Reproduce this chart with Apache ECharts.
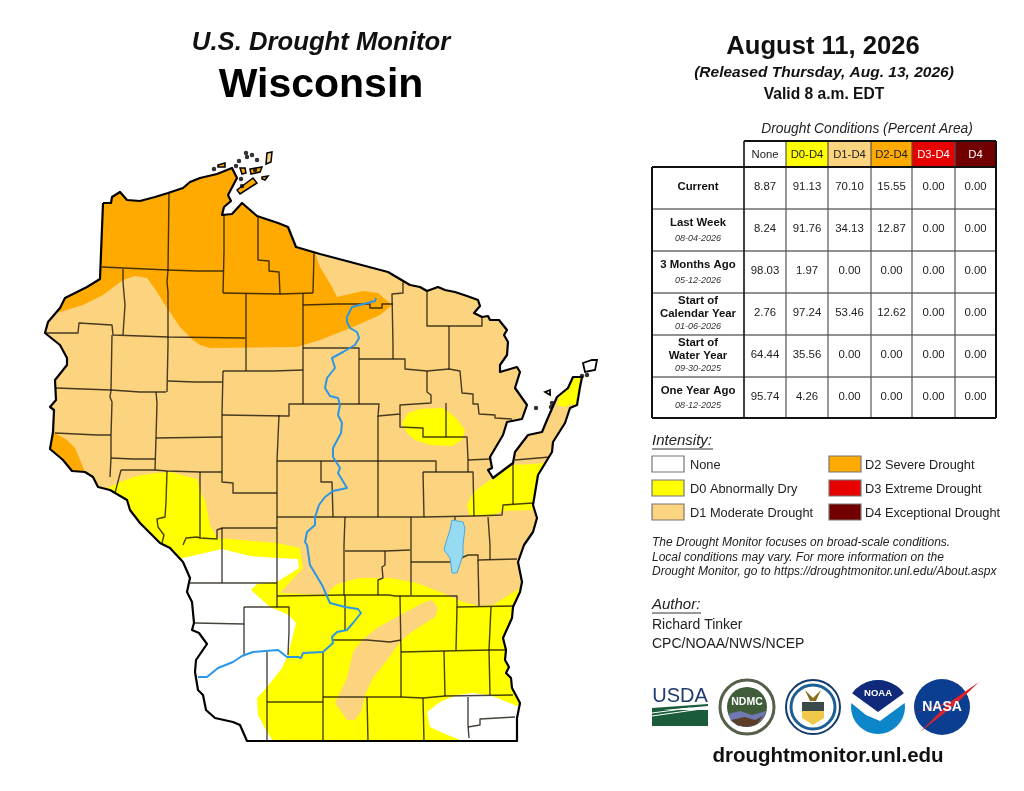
<!DOCTYPE html>
<html>
<head>
<meta charset="utf-8">
<title>U.S. Drought Monitor - Wisconsin</title>
<script src="https://cdn.jsdelivr.net/npm/echarts@6/dist/echarts.min.js"></script>
<style>
  html, body { margin: 0; padding: 0; background: #fff; }
  #main { width: 1024px; height: 791px; }
</style>
</head>
<body>
<div id="main"></div>
<script>
var chartDom = document.getElementById('main');
var myChart = echarts.init(chartDom, null, { renderer: 'canvas' });

var stateOutline = [
  [103,203],[111,203],[112,197],[120,192],[127,200],[140,201],[155,197],[168,193],[183,188],[190,182],[200,178],[217,174],[232,168],
  [237,178],[228,195],[231,201],[224,207],[222,215],[232,214],[242,203],[257,216],[278,223],[288,227],[296,247],[320,254],
  [388,272],[410,285],[420,287],[427,291],[438,287],[445,290],[455,292],[467,296],[478,300],[480,306],[474,313],[482,317],[488,316],[490,320],[499,320],
  [507,330],[504,335],[508,342],[507,355],[500,365],[500,372],[517,367],[520,372],[515,388],[527,405],[522,419],[507,422],[503,435],
  [490,457],[492,468],[488,470],[493,478],[513,463],[515,452],[528,435],[542,432],[547,420],[557,397],[568,388],[573,377],[582,377],
  [580,387],[577,405],[570,408],[565,423],[553,442],[552,452],[538,475],[533,505],[537,518],[533,532],[524,545],
  [518,562],[522,582],[520,592],[513,607],[512,618],[503,638],[506,650],[505,660],[509,667],[506,673],[511,678],[512,688],[520,703],[517,718],[517,741],
  [247,741],[240,725],[233,722],[215,718],[206,710],[203,695],[198,690],[195,672],[196,660],[207,644],[199,633],[192,630],[194,623],[192,602],[187,592],[190,578],[183,562],[170,548],
  [160,543],[140,523],[130,510],[127,500],[110,490],[98,487],[93,477],[85,472],[72,471],[63,460],[50,449],[53,432],[54,410],[50,407],[56,400],[55,380],[67,365],[67,358],[60,345],
  [45,333],[48,322],[60,308],[65,298],[87,287],[100,279],[103,203]
];
var d2Areas = [
  [[30,318],[60,312],[83,305],[103,295],[123,280],[135,276],[147,278],[157,292],[167,308],[180,327],[193,340],[200,345],[210,348],[297,347],[320,340],[353,327],[380,315],[392,305],[378,293],[363,291],[337,297],[332,287],[320,267],[314,250],[316,140],[30,140]],
  [[53,428],[55,433],[67,440],[75,448],[85,472],[40,480],[40,428]]
];
var d0Areas = [
  [[100,492],[110,487],[120,482],[137,476],[155,473],[170,472],[197,479],[201,493],[205,500],[210,525],[217,538],[277,543],[300,548],[303,568],[280,593],[327,595],[333,587],[340,583],[360,578],[390,578],[417,583],[440,592],[463,602],[480,606],[493,605],[525,585],[560,760],[100,760]],
  [[402,423],[408,413],[420,409],[443,408],[455,417],[465,430],[462,440],[452,446],[430,445],[415,440],[407,433]],
  [[467,505],[473,493],[487,482],[513,465],[547,463],[560,460],[560,510],[533,510],[503,511],[493,515],[470,516]],
  [[557,405],[560,395],[565,385],[575,370],[595,370],[595,412],[572,404],[565,407]],
  [[465,294],[482,296],[480,303],[470,298]]
];
var d1Areas = [
  [[432,600],[438,608],[435,617],[410,633],[400,642],[387,660],[373,678],[365,695],[362,710],[355,720],[347,720],[335,703],[347,678],[353,652],[362,640],[377,628],[400,615],[423,603]]
];
var noneAreas = [
  [[183,558],[222,549],[250,556],[277,558],[298,559],[299,568],[277,582],[257,584],[251,590],[270,607],[289,615],[296,623],[288,655],[282,668],[267,687],[257,698],[258,715],[267,732],[276,745],[150,760],[150,575]],
  [[427,712],[440,702],[457,695],[473,693],[490,695],[517,706],[530,700],[530,745],[472,745],[443,733],[430,727]]
];
var countyLines = [
  [[169,193],[168,270],[167,282],[168,292],[168,345],[167,392]],
  [[102,267],[168,270],[197,271],[223,271]],
  [[224,215],[224,252],[223,293]],
  [[258,217],[258,260],[269,261],[269,271],[279,272],[280,294]],
  [[223,293],[280,294],[313,293]],
  [[314,253],[313,293]],
  [[246,294],[246,371]],
  [[303,294],[303,404]],
  [[303,305],[337,304],[370,304],[370,308],[382,308],[382,304],[393,304]],
  [[123,269],[123,282],[125,305],[123,335]],
  [[46,333],[78,333],[79,323],[112,325],[113,335],[168,337],[245,338]],
  [[403,282],[403,293],[392,294],[393,345],[393,359]],
  [[427,292],[427,308],[427,326],[482,326],[482,317]],
  [[449,326],[449,369]],
  [[112,335],[111,390],[110,397],[112,402],[111,435],[111,458],[110,477]],
  [[56,388],[83,389],[111,390],[140,392],[166,392]],
  [[168,381],[195,382],[222,382]],
  [[223,371],[273,371],[303,370]],
  [[223,371],[222,415],[222,472],[222,482],[233,483],[233,493],[277,493]],
  [[156,392],[157,403],[156,438],[155,470]],
  [[222,415],[285,416],[289,416],[289,404],[359,404]],
  [[156,438],[222,437]],
  [[55,433],[97,435],[111,435]],
  [[111,458],[133,459],[155,459]],
  [[121,470],[155,470],[167,471],[200,472],[222,472]],
  [[121,470],[115,493]],
  [[167,471],[166,502],[165,517],[157,519],[158,527],[164,535],[162,543]],
  [[200,472],[200,538]],
  [[183,545],[186,538],[197,537],[200,538],[217,539],[217,530],[222,528],[277,528]],
  [[279,415],[278,438],[277,461],[277,607]],
  [[277,461],[378,461],[436,461],[436,472]],
  [[277,517],[320,517],[378,517],[424,517],[474,516],[502,515],[503,505],[533,503]],
  [[303,348],[359,348],[359,404]],
  [[359,359],[393,359],[405,359],[405,369],[427,371],[449,369],[460,371],[462,393],[473,394],[473,404],[478,404],[479,414],[495,415],[495,418],[512,419]],
  [[427,371],[427,392],[431,395],[431,403],[400,405],[400,414],[378,416],[379,404],[359,404]],
  [[400,414],[400,427],[423,428],[423,437],[445,437],[467,437],[468,460],[468,472]],
  [[446,403],[446,437]],
  [[378,416],[378,517]],
  [[423,472],[473,472],[474,516]],
  [[423,472],[424,517]],
  [[468,460],[490,459]],
  [[321,461],[321,482],[332,482],[333,517]],
  [[513,463],[513,504]],
  [[515,460],[550,457]],
  [[345,517],[344,545],[344,595]],
  [[411,517],[411,562],[411,595]],
  [[455,517],[455,520]],
  [[488,517],[490,545],[490,560]],
  [[345,551],[385,551],[410,550]],
  [[385,551],[385,565],[382,567],[383,578],[378,580],[378,595]],
  [[411,562],[452,562],[468,555],[478,555],[478,560],[517,559]],
  [[478,560],[479,606]],
  [[277,596],[345,595],[389,595],[395,596],[400,596],[457,596],[457,607],[513,606]],
  [[400,596],[401,652],[401,697]],
  [[457,607],[456,650]],
  [[491,607],[489,650],[490,695]],
  [[401,652],[444,651],[490,650],[505,650]],
  [[444,651],[445,696]],
  [[323,697],[367,697],[401,697],[423,698],[445,696],[513,695]],
  [[333,640],[367,640],[390,642],[401,640]],
  [[367,697],[368,741]],
  [[423,698],[424,741]],
  [[468,697],[468,725],[469,738]],
  [[468,727],[480,725],[480,719],[515,717]],
  [[222,528],[222,583]],
  [[190,583],[277,583]],
  [[244,607],[289,607],[289,632],[288,655]],
  [[244,607],[244,655]],
  [[195,623],[244,624]],
  [[267,652],[267,741]],
  [[345,595],[345,630]],
  [[323,652],[323,741]],
  [[267,702],[323,702]]
];
var riverLines = [
  [[376,298],[375,301],[352,307],[347,317],[347,322],[350,328],[357,332],[359,338],[355,345],[343,352],[332,358],[335,368],[327,378],[325,388],[330,396],[338,398],[340,405],[338,415],[342,423],[341,433],[333,448],[333,457],[340,468],[338,473],[347,488],[333,491],[325,497],[319,505],[315,517],[315,525],[307,532],[305,542],[307,545],[310,565],[322,585],[330,603],[345,607],[358,609],[361,613],[353,623],[347,630],[337,632],[332,637],[333,643],[323,652],[303,653],[301,658],[298,657],[287,657],[278,650],[253,652],[242,656],[233,662],[218,668],[207,677],[198,677]]
];
var lakeAreas = [
  [[452,520],[463,522],[465,528],[463,545],[463,555],[457,573],[452,573],[450,558],[444,550],[446,542],[450,530]]
];
var islandAreas = [
  [[218,165],[225,163],[225,167],[218,167]],
  [[240,168],[245,168],[246,173],[242,174]],
  [[250,169],[262,167],[260,172],[251,174]],
  [[237,190],[253,178],[257,183],[240,194]],
  [[262,177],[268,176],[265,180],[262,179]]
];
var lightIslandAreas = [[[267,153],[272,152],[271,162],[266,164]]];
var whiteIslandAreas = [
  [[583,363],[592,360],[597,360],[595,370],[585,372]],
  [[545,392],[550,390],[550,395]]
];
var islandDots = [[239,161],[247,157],[252,155],[257,160],[255,170],[241,179],[246,153],[236,166],[536,408],[552,403],[551,407],[582,376],[587,375],[214,169],[242,186]];

// table and legend
var tableHeaders = ['None', 'D0-D4', 'D1-D4', 'D2-D4', 'D3-D4', 'D4'];
var tableHeaderFills = ['#FFFFFF', '#FFFF00', '#FCD37F', '#FFAA00', '#E60000', '#730000'];
var tableHeaderInks = ['#222', '#222', '#222', '#222', '#fff', '#fff'];
var rowLabels = [['Current'], ['Last Week'], ['3 Months Ago'], ['Start of', 'Calendar Year'], ['Start of', 'Water Year'], ['One Year Ago']];
var rowDates = ['', '08-04-2026', '05-12-2026', '01-06-2026', '09-30-2025', '08-12-2025'];
var rowValues = [
  ['8.87', '91.13', '70.10', '15.55', '0.00', '0.00'],
  ['8.24', '91.76', '34.13', '12.87', '0.00', '0.00'],
  ['98.03', '1.97', '0.00', '0.00', '0.00', '0.00'],
  ['2.76', '97.24', '53.46', '12.62', '0.00', '0.00'],
  ['64.44', '35.56', '0.00', '0.00', '0.00', '0.00'],
  ['95.74', '4.26', '0.00', '0.00', '0.00', '0.00']
];
var legendNames = ['None', 'D0 Abnormally Dry', 'D1 Moderate Drought', 'D2 Severe Drought', 'D3 Extreme Drought', 'D4 Exceptional Drought'];
var noteLines = [
  'The Drought Monitor focuses on broad-scale conditions.',
  'Local conditions may vary. For more information on the',
  'Drought Monitor, go to https://droughtmonitor.unl.edu/About.aspx'
];

var FONT = '"Liberation Sans", Arial, sans-serif';
var colEdges = [652, 744, 786, 828, 871, 912, 955, 996];
var rowEdges = [167, 209, 251, 293, 335, 377, 418];

function toPoints(api, pts) {
  return pts.map(function (p) { return api.coord(p); });
}

function areaSeries(polys, fill, z, stroke, lineWidth) {
  return {
    type: 'custom',
    coordinateSystem: 'cartesian2d',
    silent: true,
    clip: false,
    z: z,
    data: polys.map(function (p, i) { return [i]; }),
    renderItem: function (params, api) {
      return {
        type: 'polygon',
        shape: { points: toPoints(api, polys[api.value(0)]) },
        style: { fill: fill, stroke: stroke || null, lineWidth: lineWidth || 0 }
      };
    }
  };
}

function lineSeries(lines, stroke, lineWidth, z) {
  return {
    type: 'custom',
    coordinateSystem: 'cartesian2d',
    silent: true,
    clip: false,
    z: z,
    data: lines.map(function (p, i) { return [i]; }),
    renderItem: function (params, api) {
      return {
        type: 'polyline',
        shape: { points: toPoints(api, lines[api.value(0)]) },
        style: { fill: null, stroke: stroke, lineWidth: lineWidth, lineJoin: 'round' }
      };
    }
  };
}

function label(text, x, y, size, opts) {
  opts = opts || {};
  return {
    type: 'text',
    x: x,
    y: y,
    style: {
      text: text,
      fill: opts.fill || '#111',
      font: (opts.italic ? 'italic ' : '') + (opts.bold ? 'bold ' : '') + size + 'px ' + FONT,
      align: opts.align || 'center',
      verticalAlign: 'middle'
    }
  };
}

function rect(x, y, w, h, fill, stroke, lineWidth) {
  return { type: 'rect', shape: { x: x, y: y, width: w, height: h }, style: { fill: fill, stroke: stroke || null, lineWidth: lineWidth || 0 } };
}

function seg(x1, y1, x2, y2, stroke, lineWidth) {
  return { type: 'line', shape: { x1: x1, y1: y1, x2: x2, y2: y2 }, style: { stroke: stroke, lineWidth: lineWidth } };
}

function buildTable() {
  var els = [label('Drought Conditions (Percent Area)', 867, 129, 13.8, { italic: true, fill: '#222' })];
  tableHeaders.forEach(function (h, i) {
    els.push(rect(colEdges[i + 1], 141, colEdges[i + 2] - colEdges[i + 1], 26, tableHeaderFills[i]));
    els.push(label(h, (colEdges[i + 1] + colEdges[i + 2]) / 2, 155, 11.3, { fill: tableHeaderInks[i] }));
  });
  rowLabels.forEach(function (lines, r) {
    var mid = (rowEdges[r] + rowEdges[r + 1]) / 2;
    if (lines.length === 1 && !rowDates[r]) {
      els.push(label(lines[0], 698, mid - 1, 11.4, { bold: true }));
    } else if (lines.length === 1) {
      els.push(label(lines[0], 698, mid - 7, 11.4, { bold: true }));
      els.push(label(rowDates[r], 698, mid + 8, 9, { italic: true, fill: '#333' }));
    } else {
      els.push(label(lines[0], 698, mid - 13, 11.4, { bold: true }));
      els.push(label(lines[1], 698, mid, 11.4, { bold: true }));
      els.push(label(rowDates[r], 698, mid + 12, 9, { italic: true, fill: '#333' }));
    }
    rowValues[r].forEach(function (v, c) {
      els.push(label(v, (colEdges[c + 1] + colEdges[c + 2]) / 2, mid - 1, 11.4, { fill: '#222' }));
    });
  });
  rowEdges.slice(1, -1).forEach(function (y) { els.push(seg(652, y, 996, y, '#222', 1)); });
  colEdges.slice(2, -1).forEach(function (x) { els.push(seg(x, 141, x, 418, '#555', 1.2)); });
  els.push(seg(744, 141, 744, 418, '#111', 1.6));
  els.push(seg(744, 141, 996, 141, '#111', 2));
  els.push(seg(652, 167, 996, 167, '#111', 2));
  els.push(seg(652, 167, 652, 418, '#111', 2));
  els.push(seg(996, 141, 996, 418, '#111', 2));
  els.push(seg(652, 418, 996, 418, '#111', 2));
  return els;
}

function buildLegend() {
  var els = [label('Intensity:', 652, 441, 15, { italic: true, align: 'left', fill: '#222' }), seg(652, 449, 713, 449, '#333', 1)];
  var fills = tableHeaderFills;
  legendNames.forEach(function (name, i) {
    var col = i < 3 ? 0 : 1;
    var sx = col ? 829 : 652;
    var sy = 456 + (i % 3) * 24;
    els.push(rect(sx, sy, 32, 16, fills[i], '#777', 1.2));
    els.push(label(name, col ? 865 : 690, sy + 9, 12.8, { align: 'left', fill: '#222' }));
  });
  noteLines.forEach(function (t, i) {
    els.push(label(t, 652, 543 + i * 14.3, 12, { italic: true, align: 'left', fill: '#222' }));
  });
  els.push(label('Author:', 652, 605, 15, { italic: true, align: 'left', fill: '#222' }));
  els.push(seg(652, 613, 701, 613, '#333', 1));
  els.push(label('Richard Tinker', 652, 625, 14, { align: 'left', fill: '#222' }));
  els.push(label('CPC/NOAA/NWS/NCEP', 652, 644, 14, { align: 'left', fill: '#222' }));
  return els;
}

function circle(cx, cy, r, fill, stroke, lineWidth) {
  return { type: 'circle', shape: { cx: cx, cy: cy, r: r }, style: { fill: fill, stroke: stroke || null, lineWidth: lineWidth || 0 } };
}

function poly(points, fill) {
  return { type: 'polygon', shape: { points: points }, style: { fill: fill } };
}

function buildLogos() {
  var els = [];
  // USDA
  els.push(label('USDA', 680, 696, 20, { fill: '#1f3a6e' }));
  els.push(rect(652, 710, 56, 16, '#1a5c3a'));
  els.push(poly([[652, 708], [708, 704], [708, 706], [652, 711]], '#1a5c3a'));
  els.push(seg(652, 713, 690, 708, '#fff', 1));
  els.push(seg(652, 716, 708, 708, '#fff', 1));
  // NDMC
  els.push(circle(747, 707, 27, '#fff', '#55604a', 3));
  els.push(circle(747, 707, 20, '#3f5d38'));
  els.push(poly([[728, 714], [740, 711], [752, 715], [766, 711], [762, 720], [750, 727], [738, 726], [731, 721]], '#6f78b0'));
  els.push(poly([[731, 720], [745, 717], [755, 720], [763, 716], [757, 724], [747, 727], [737, 725]], '#5b3d28'));
  els.push(label('NDMC', 747, 702, 10.5, { bold: true, fill: '#fff' }));
  // Commerce seal
  els.push(circle(813, 707, 27, '#fff', '#123a6a', 2));
  els.push(circle(813, 707, 22, '#fff', '#1b5f95', 3));
  els.push(poly([[802, 702], [824, 702], [824, 718], [813, 725], [802, 718]], '#f0c94a'));
  els.push(rect(802, 702, 22, 9, '#3a4a4a'));
  els.push(poly([[805, 690], [813, 698], [821, 690], [816, 701], [810, 701]], '#8a6d1f'));
  // NOAA
  els.push(circle(878, 707, 27, '#0d86c9'));
  els.push(poly([[850, 690], [906, 690], [906, 702], [880, 721], [866, 715], [850, 702]], '#fff'));
  els.push({
    type: 'sector',
    shape: { cx: 878, cy: 712, r: 32, startAngle: Math.PI * 1.2, endAngle: Math.PI * 1.8 },
    style: { fill: '#10297a' }
  });
  els.push(label('NOAA', 878, 693, 9.5, { bold: true, fill: '#fff' }));
  // NASA
  els.push(circle(942, 707, 28, '#0b3d91'));
  els.push(poly([[911, 714], [950, 702], [979, 682], [955, 705], [920, 732], [948, 704]], '#d9232e'));
  els.push(label('NASA', 942, 707, 14, { bold: true, fill: '#fff' }));
  return els;
}

var maskRing = stateOutline.concat([[103, 203], [20, 125], [20, 770], [625, 770], [625, 125], [20, 125]]);

var option = {
  animation: false,
  backgroundColor: '#fff',
  grid: { left: 0, right: 0, top: 0, bottom: 0 },
  xAxis: { type: 'value', min: 0, max: 1024, show: false },
  yAxis: { type: 'value', min: 0, max: 791, inverse: true, show: false },
  series: [
    areaSeries([stateOutline], '#FCD37F', 2),
    areaSeries(d0Areas, '#FFFF00', 3),
    areaSeries(d1Areas, '#FCD37F', 4),
    areaSeries(d2Areas, '#FFAA00', 4),
    areaSeries(noneAreas, '#FFFFFF', 5),
    lineSeries(countyLines, 'rgba(20,15,5,0.78)', 1.4, 6),
    areaSeries([maskRing], '#FFFFFF', 7),
    areaSeries(lakeAreas, '#97DBF2', 8, '#4aa8e0', 1),
    lineSeries(riverLines, '#2b96e6', 2, 9),
    lineSeries([stateOutline], '#000', 2.2, 10),
    areaSeries(islandAreas, '#FFAA00', 11, '#000', 1.5),
    areaSeries(lightIslandAreas, '#FCD37F', 11, '#000', 1.5),
    areaSeries(whiteIslandAreas, '#FFFFFF', 11, '#000', 1.8),
    {
      type: 'scatter',
      silent: true,
      z: 11,
      symbol: 'circle',
      symbolSize: 4.5,
      itemStyle: { color: '#000' },
      data: islandDots
    }
  ],
  graphic: {
    elements: [
      label('U.S. Drought Monitor', 321, 43, 25.7, { italic: true, bold: true }),
      label('Wisconsin', 321, 86, 41, { bold: true, fill: '#000' }),
      label('August 11, 2026', 823, 47, 25.6, { bold: true }),
      label('(Released Thursday, Aug. 13, 2026)', 824, 73, 15.5, { italic: true, bold: true }),
      label('Valid 8 a.m. EDT', 824, 95, 15.6, { bold: true }),
      label('droughtmonitor.unl.edu', 828, 756, 20.5, { bold: true })
    ].concat(buildTable(), buildLegend(), buildLogos())
  }
};

option && myChart.setOption(option);
</script>
</body>
</html>
